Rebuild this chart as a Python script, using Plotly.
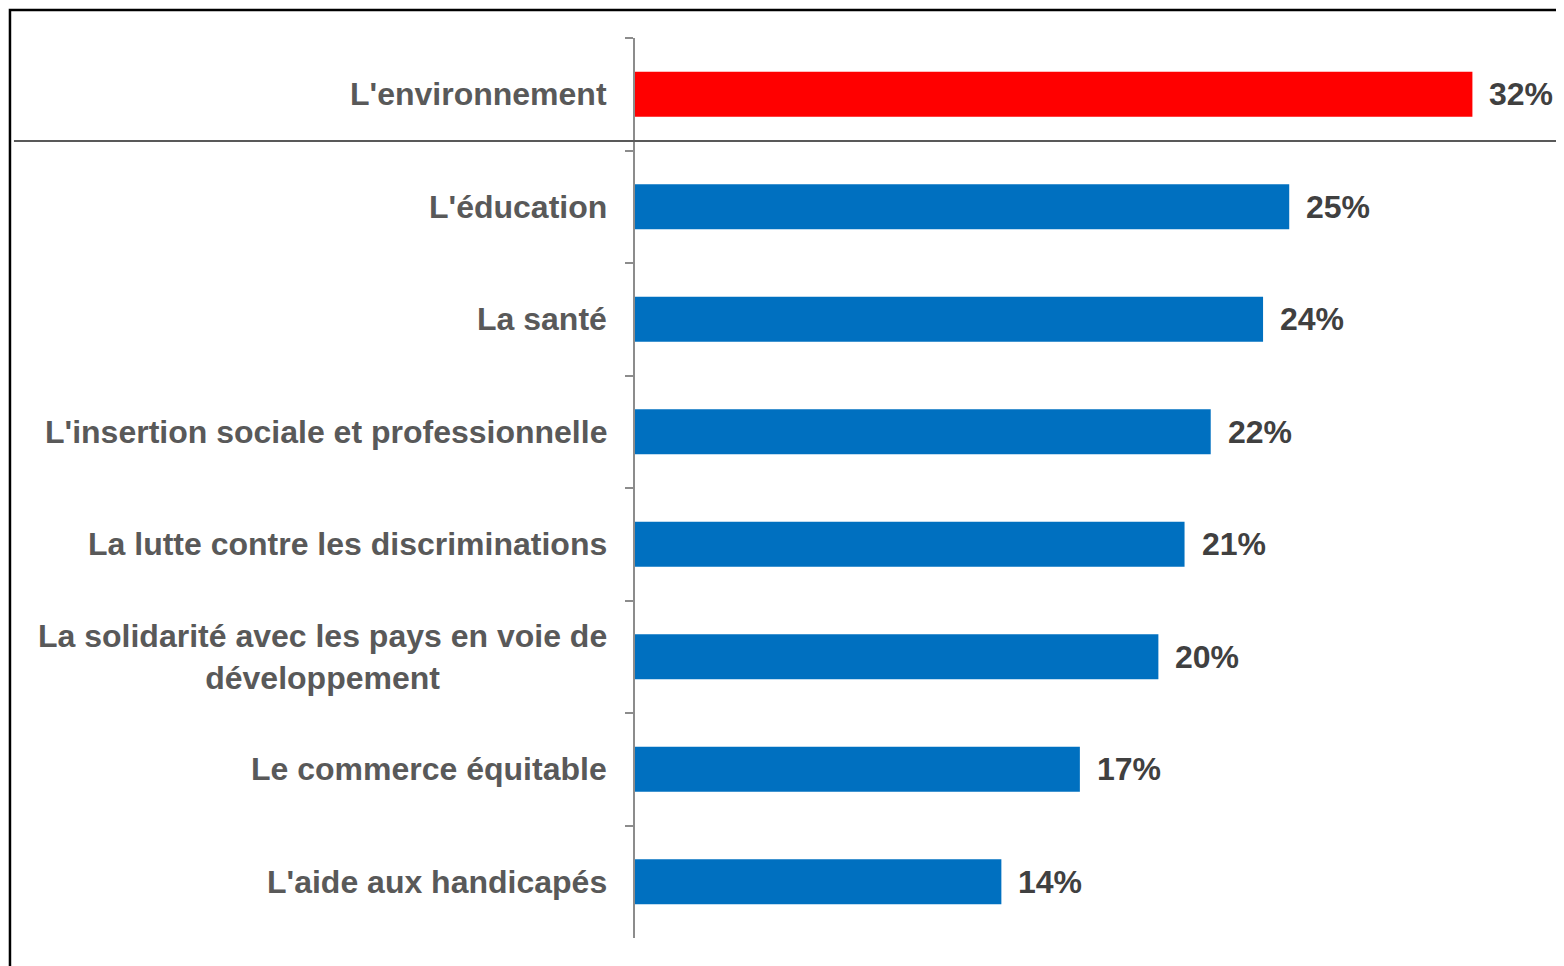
import plotly.graph_objects as go

BLUE = "#0070C0"
RED = "#FF0000"
LABEL = "#595959"
VALUE = "#404040"
AXIS = "#8C8C8C"

categories = [
    "L'environnement",
    "L'éducation",
    "La santé",
    "L'insertion sociale et professionnelle",
    "La lutte contre les discriminations",
    "La solidarité avec les pays en voie de<br>développement",
    "Le commerce équitable",
    "L'aide aux handicapés",
]
values = [32, 25, 24, 22, 21, 20, 17, 14]
highlight = "L'environnement"

FONT = "Liberation Sans, Arial, sans-serif"

colors = [RED if c == highlight else BLUE for c in categories]

fig = go.Figure(
    go.Bar(
        x=values,
        y=categories,
        orientation="h",
        width=0.4,
        marker={"color": colors, "line": {"width": 0}},
        hoverinfo="skip",
    )
)

# category labels, right aligned against the axis, centred when wrapped
for cat in categories:
    fig.add_annotation(
        x=0, xref="paper", y=cat, yref="y",
        text=cat, showarrow=False,
        xanchor="right", align="center", xshift=-26,
        font={"family": FONT, "size": 32, "color": LABEL, "weight": "bold"},
    )

# value labels just past the bar ends
for cat, v in zip(categories, values):
    fig.add_annotation(
        x=v, y=cat, text=f"{v}%", showarrow=False,
        xanchor="left", xshift=15,
        font={"family": FONT, "size": 32, "color": VALUE, "weight": "bold"},
    )

# outer frame and separator under the highlighted row
fig.add_shape(
    type="rect", xref="paper", yref="paper",
    x0=-0.6728, x1=1.2, y0=-0.2, y1=1.0311,
    line={"color": "#000000", "width": 2.5},
)
fig.add_shape(
    type="line", xref="paper", yref="paper",
    x0=-0.6685, x1=1.0, y0=0.8856, y1=0.8856,
    line={"color": LABEL, "width": 2},
)

# the page body adds an 8px offset, so the figure is trimmed to fit the window
fig.update_layout(
    width=1556,
    height=958,
    paper_bgcolor="white",
    plot_bgcolor="white",
    margin={"l": 627, "r": 0, "t": 30, "b": 28},
    showlegend=False,
    font={"family": FONT},
)
fig.update_xaxes(range=[0, 35.5], visible=False, fixedrange=True)
fig.update_yaxes(
    autorange="reversed",
    showticklabels=False,
    showline=True,
    linecolor=AXIS,
    linewidth=1.5,
    ticks="outside",
    tickson="boundaries",
    ticklen=8,
    tickcolor=AXIS,
    tickwidth=1.5,
    showgrid=False,
    zeroline=False,
    fixedrange=True,
)

fig.write_html("out.html", config={"displayModeBar": False})
